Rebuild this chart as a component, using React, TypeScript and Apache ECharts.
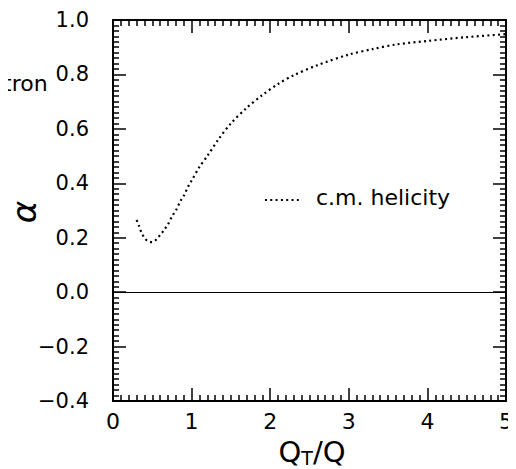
import React, { useEffect, useRef } from "react";
import * as echarts from "echarts";

const qtOverQ = [0.30, 0.33, 0.36, 0.40, 0.44, 0.50, 0.56, 0.60, 0.65, 0.70, 0.76, 0.80, 0.86, 0.90, 0.96, 1.0, 1.1, 1.2, 1.35, 1.5, 1.7, 1.9, 2.1, 2.3, 2.6, 3.0, 3.3, 3.6, 4.0, 4.5, 5.0];
const alphaHelicity = [0.265, 0.244, 0.22, 0.200, 0.188, 0.184, 0.196, 0.21, 0.228, 0.25, 0.283, 0.30, 0.336, 0.354, 0.39, 0.41, 0.46, 0.50, 0.565, 0.62, 0.677, 0.724, 0.765, 0.797, 0.834, 0.873, 0.893, 0.91, 0.923, 0.937, 0.948];
const seriesName = "c.m. helicity";
const xTitle = { q: "Q", sub: "T", rest: "/Q" };
const yTitle = "α";
const strayLabel = "tron";

const FONT = "DejaVu Sans";

function makeAxis(type: "x" | "y", position: string, showLabel: boolean) {
  const isX = type === "x";
  return {
    type: "value",
    min: isX ? 0 : -0.4,
    max: isX ? 5 : 1.0,
    interval: isX ? 1 : 0.2,
    position,
    axisLine: { show: true, onZero: false, lineStyle: { color: "#000", width: 2 } },
    axisTick: { show: true, inside: true, length: 13, lineStyle: { color: "#000", width: 1.5 } },
    minorTick: { show: true, splitNumber: 10, length: 6, lineStyle: { color: "#000", width: 1.5 } },
    splitLine: { show: false },
    minorSplitLine: { show: false },
    axisLabel: showLabel
      ? isX
        ? { show: true, margin: 9, color: "#000", fontSize: 22, fontFamily: FONT }
        : {
            show: true, margin: 24, color: "#000", fontSize: 21, fontFamily: FONT,
            formatter: (v: number) => (v < 0 ? "\u2212" : "") + Math.abs(v).toFixed(1),
          }
      : { show: false },
  };
}

export default function App() {
  const ref = useRef<HTMLDivElement>(null);
  useEffect(() => {
    if (!ref.current) return;
    const chart = echarts.init(ref.current, null, { renderer: "svg" });
    const data = qtOverQ.map((x, i) => [x, alphaHelicity[i]]);
    chart.setOption({
      animation: false,
      backgroundColor: "#fff",
      grid: { left: 113, right: 7, top: 20, bottom: 68, containLabel: false },
      xAxis: [makeAxis("x", "bottom", true), makeAxis("x", "top", false)],
      yAxis: [makeAxis("y", "left", true), makeAxis("y", "right", false)],
      series: [
        {
          name: seriesName,
          type: "line",
          xAxisIndex: 0,
          yAxisIndex: 0,
          data,
          smooth: 0.3,
          symbol: "none",
          lineStyle: { color: "#000", width: 2.2, type: [2, 3.3], cap: "butt" },
          markLine: {
            silent: true,
            symbol: "none",
            label: { show: false },
            lineStyle: { color: "#000", width: 1, type: "solid" },
            data: [{ yAxis: 0 }],
          },
        },
        {
          name: "frame",
          type: "line",
          xAxisIndex: 1,
          yAxisIndex: 1,
          data: [],
          symbol: "none",
        },
      ],
      graphic: [
        {
          type: "line",
          shape: { x1: 265, y1: 200, x2: 301, y2: 200 },
          style: { stroke: "#000", lineWidth: 2.2, lineDash: [2, 3.3] },
        },
        {
          type: "text",
          left: 316, top: 186,
          style: { text: seriesName, font: `22px "${FONT}"`, fill: "#000" },
        },
        {
          type: "text",
          x: 24, y: 212,
          rotation: Math.PI / 2,
          style: {
            text: yTitle, font: `italic 34px "${FONT}"`, fill: "#000",
            align: "center", verticalAlign: "middle",
          },
        },
        {
          type: "text",
          left: 3, top: 72,
          style: {
            text: strayLabel, font: `22px "${FONT}"`, fill: "#000",
          },
        },
        {
          type: "text",
          x: 312, y: 452,
          style: {
            text: `{q|${xTitle.q}}{s|${xTitle.sub}}{q|${xTitle.rest}}`,
            align: "center", verticalAlign: "middle",
            rich: {
              q: { fontSize: 29, fontFamily: FONT, fill: "#000", color: "#000" },
              s: { fontSize: 19, fontFamily: FONT, fill: "#000", color: "#000", padding: [12, 0, 0, 0] },
            },
          },
        },
      ],
    });
    return () => chart.dispose();
  }, []);
  return <div ref={ref} style={{ width: 516, height: 469, marginLeft: -8, marginTop: -8 }} />;
}
